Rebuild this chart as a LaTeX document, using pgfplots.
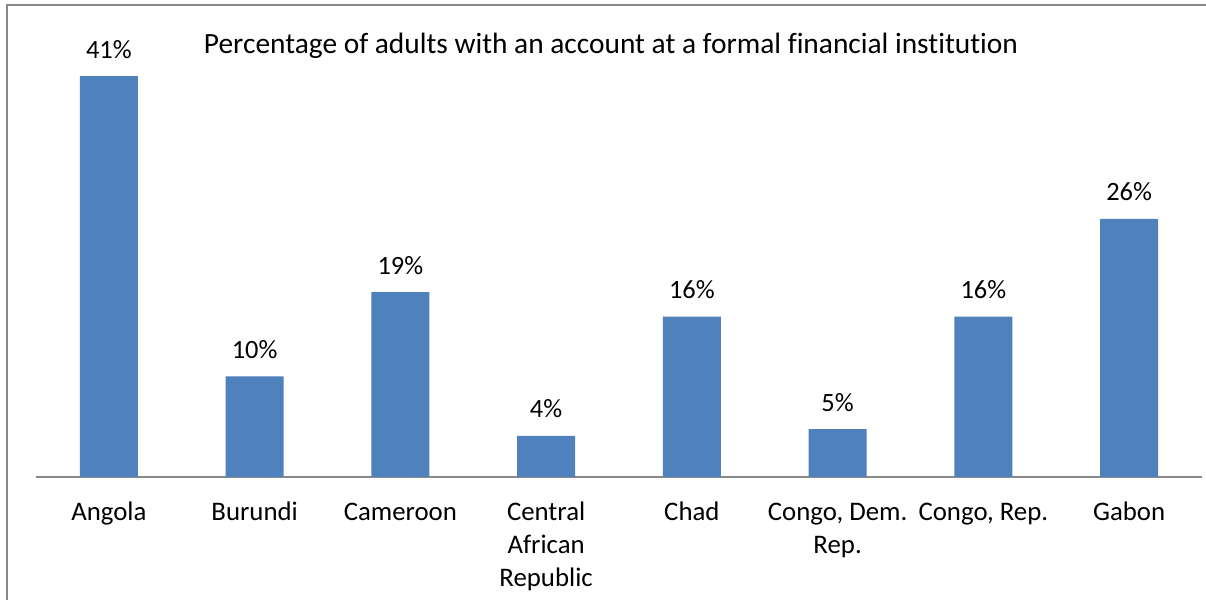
\documentclass[border=0pt]{standalone}
\usepackage{fontspec}
\setmainfont{Carlito}[Ligatures={NoCommon}]
\usepackage{pgfplots}
\pgfplotsset{compat=1.18}
\definecolor{barblue}{HTML}{4F81BD}
\definecolor{framegray}{HTML}{898989}
\begin{document}
\fontsize{13.4}{16.5}\selectfont
\begin{tikzpicture}
\useasboundingbox (0,0) rectangle (603pt,300pt);
\clip (0,0) rectangle (603pt,300pt);
\fill[white] (0,0) rectangle (603pt,300pt);
\draw[framegray, line width=0.9pt] (3.5pt,-20pt) rectangle (620pt,297.5pt);
\begin{axis}[
  at={(18pt,61.5pt)}, anchor=south west,
  scale only axis, width=583pt, height=220pt,
  xmin=-0.5, xmax=7.5, ymin=0, ymax=45,
  axis x line=bottom, axis y line=none,
  x axis line style={-, draw=framegray, line width=0.75pt},
  ytick=\empty,
  xtick={0,...,7},
  xticklabels={\strut Angola, \strut Burundi, \strut Cameroon, {\strut Central\\African\\Republic}, \strut Chad, {\strut Congo, Dem.\\Rep.}, {\strut Congo, Rep.}, \strut Gabon},
  major tick length=0pt,
  xticklabel style={align=center, font=\fontsize{13.4}{16.5}\selectfont, anchor=north, inner sep=0pt, yshift=-10pt},
  /pgf/number format/assume math mode=true,
  ybar, bar width=29pt,
  nodes near coords={\pgfmathprintnumber[fixed,precision=0,assume math mode=true]{\pgfplotspointmeta}\%},
  every node near coord/.append style={anchor=base, inner sep=0pt, yshift=9pt, font=\fontsize{13.2}{16}\selectfont, text=black},
  clip=false,
]
\addplot[fill=barblue, draw=none] coordinates {
  (0,41) (1,10.3) (2,18.9) (3,4.2) (4,16.4) (5,4.9) (6,16.4) (7,26.4)
};
\end{axis}
\node[anchor=base, font=\fontsize{14.7}{17}\selectfont] at (305.5pt,273pt) {Percentage of adults with an account at a formal financial institution};
\end{tikzpicture}
\end{document}
